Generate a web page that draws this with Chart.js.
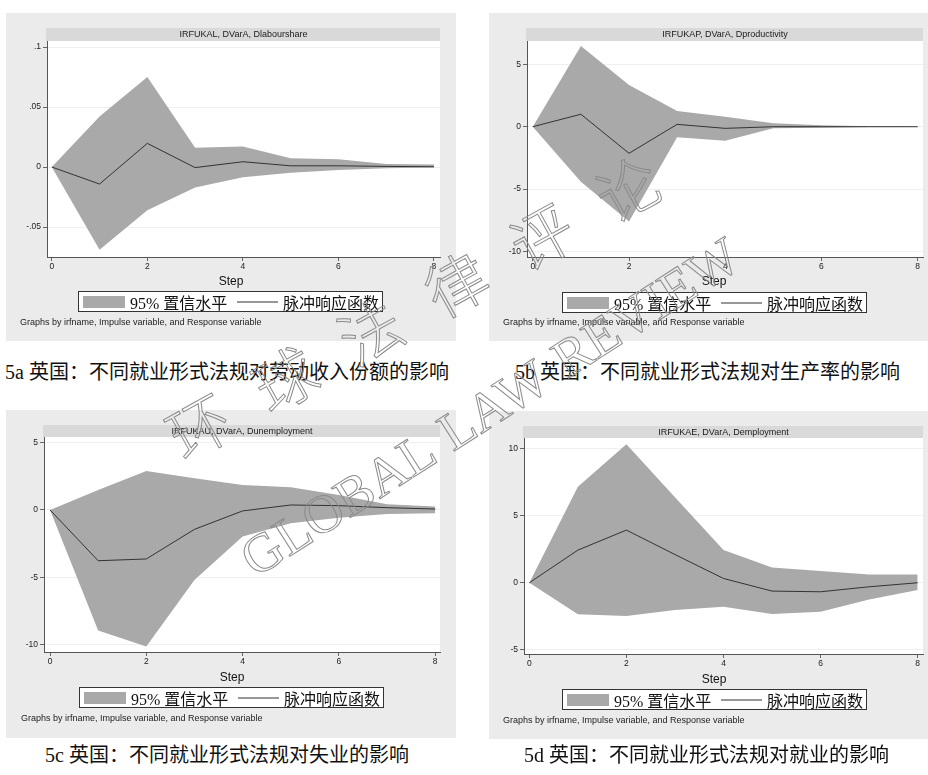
<!DOCTYPE html>
<html lang="zh">
<head>
  <meta charset="UTF-8" />
  <title>英国：不同就业形式法规的脉冲响应</title>
  <script src="https://cdn.jsdelivr.net/npm/chart.js"></script>
  <style>
    body { margin: 0; background: #fff; width: 928px; height: 775px; position: relative; overflow: hidden; }
    .panel { position: absolute; background: #ebebeb; }
    .panel canvas { position: absolute; left: 0; top: 0; }
    .step { position: absolute; font: 12px "Liberation Sans", Arial, sans-serif; color: #111; transform: translate(-50%, -50%); }
    .legend { position: absolute; width: 305px; height: 21px; box-sizing: border-box; border: 1px solid #333; background: #fff; }
    .legend span { position: absolute; top: 50%; transform: translateY(-50%); }
    .legend .sw { left: 4px; width: 42px; height: 12px; background: #a9a9a9; }
    .legend .ln { left: 158px; width: 41px; height: 1px; background: #333; }
    .legend .tx { font: 16px "Liberation Serif", "Noto Sans CJK SC", serif; color: #111; white-space: nowrap; }
    .note { position: absolute; font: 9px "Liberation Sans", Arial, sans-serif; color: #222; transform: translateY(-50%); white-space: nowrap; }
    .caption { position: absolute; font: 20px "Liberation Serif", "Noto Sans CJK SC", serif; color: #111; transform: translateY(-50%); white-space: nowrap; }
    .wm { position: absolute; color: transparent; -webkit-text-stroke: 1px #8a8a8a; pointer-events: none; white-space: nowrap; }
  </style>
</head>
<body>
  <div class="panel" style="left:6px;top:13px;width:450px;height:328px;"><canvas id="chartA" width="450" height="328"></canvas></div>
  <div class="panel" style="left:489px;top:13px;width:439px;height:328px;"><canvas id="chartB" width="439" height="328"></canvas></div>
  <div class="panel" style="left:6px;top:410px;width:450px;height:328px;"><canvas id="chartC" width="450" height="328"></canvas></div>
  <div class="panel" style="left:489px;top:411px;width:439px;height:328px;"><canvas id="chartD" width="439" height="328"></canvas></div>

  <div class="step" style="left:231px;top:281px;">Step</div>
  <div class="step" style="left:714px;top:281px;">Step</div>
  <div class="step" style="left:232px;top:677px;">Step</div>
  <div class="step" style="left:714px;top:679px;">Step</div>

  <div class="legend" style="left:78px;top:291px;"><span class="sw"></span><span class="tx" style="left:51px;">95% 置信水平</span><span class="ln"></span><span class="tx" style="left:204px;">脉冲响应函数</span></div>
  <div class="legend" style="left:562px;top:292px;"><span class="sw"></span><span class="tx" style="left:51px;">95% 置信水平</span><span class="ln"></span><span class="tx" style="left:204px;">脉冲响应函数</span></div>
  <div class="legend" style="left:79px;top:687px;"><span class="sw"></span><span class="tx" style="left:51px;">95% 置信水平</span><span class="ln"></span><span class="tx" style="left:204px;">脉冲响应函数</span></div>
  <div class="legend" style="left:562px;top:689px;"><span class="sw"></span><span class="tx" style="left:51px;">95% 置信水平</span><span class="ln"></span><span class="tx" style="left:204px;">脉冲响应函数</span></div>

  <div class="note" style="left:20px;top:322px;">Graphs by irfname, Impulse variable, and Response variable</div>
  <div class="note" style="left:503px;top:322px;">Graphs by irfname, Impulse variable, and Response variable</div>
  <div class="note" style="left:21px;top:718px;">Graphs by irfname, Impulse variable, and Response variable</div>
  <div class="note" style="left:503px;top:720px;">Graphs by irfname, Impulse variable, and Response variable</div>

  <div class="caption" style="left:5px;top:370px;">5a 英国：不同就业形式法规对劳动收入份额的影响</div>
  <div class="caption" style="left:515px;top:370px;">5b 英国：不同就业形式法规对生产率的影响</div>
  <div class="caption" style="left:45px;top:753px;">5c 英国：不同就业形式法规对失业的影响</div>
  <div class="caption" style="left:524px;top:753px;">5d 英国：不同就业形式法规对就业的影响</div>

  <div class="wm" style="left:412px;top:305px;transform:translate(-50%,-50%) rotate(-29deg);font:300 62px 'Noto Sans CJK SC';display:flex;gap:36px;"><span>环</span><span>球</span><span>法</span><span>律</span><span>评</span><span>论</span></div>
  <div class="wm" style="left:490px;top:407px;transform:translate(-50%,-50%) rotate(-32.6deg);font:54px 'Liberation Serif';word-spacing:4px;">GLOBAL LAW REVIEW</div>

  <script>
    // Impulse steps
    const steps = [0, 1, 2, 3, 4, 5, 6, 7, 8];
    const stepTicks = [0, 2, 4, 6, 8];

    // 5a Dlabourshare
    const labourIrf   = [0, -0.0142, 0.0197, -0.0005, 0.0044, 0.001, 0.001, 0.0005, 0.0002];
    const labourUpper = [0, 0.042, 0.075, 0.016, 0.017, 0.0072, 0.0064, 0.0025, 0.002];
    const labourLower = [0, -0.069, -0.036, -0.017, -0.0086, -0.0047, -0.0025, -0.001, -0.0005];
    const labourTicks = [-0.05, 0, 0.05, 0.1];

    // 5b Dproductivity
    const prodIrf   = [0, 1.0, -2.13, 0.19, -0.13, 0.0, 0.0, 0.0, 0.0];
    const prodUpper = [0, 6.47, 3.34, 1.26, 0.8, 0.27, 0.12, 0.04, 0.01];
    const prodLower = [0, -4.4, -7.6, -0.85, -1.12, -0.13, -0.08, -0.03, -0.01];
    const prodTicks = [-10, -5, 0, 5];

    // 5c Dunemployment
    const unempIrf   = [0, -3.77, -3.64, -1.44, -0.07, 0.37, 0.32, 0.17, 0.07];
    const unempUpper = [0, 1.49, 2.9, 2.35, 1.86, 1.68, 1.11, 0.42, 0.25];
    const unempLower = [0, -8.96, -10.15, -5.2, -1.98, -0.99, -0.57, -0.3, -0.25];
    const unempTicks = [-10, -5, 0, 5];

    // 5d Demployment
    const empIrf   = [0, 2.43, 3.92, 2.1, 0.32, -0.62, -0.67, -0.3, 0.0];
    const empUpper = [0, 7.14, 10.3, 6.36, 2.43, 1.14, 0.87, 0.62, 0.62];
    const empLower = [0, -2.35, -2.48, -2.03, -1.78, -2.33, -2.16, -1.24, -0.54];
    const empTicks = [-5, 0, 5, 10];

    // white plot region + grey title band above it
    const bandTitle = {
      id: 'bandTitle',
      beforeDraw(chart, args, opts) {
        const ctx = chart.ctx, a = chart.chartArea;
        ctx.save();
        ctx.fillStyle = '#fff';
        ctx.fillRect(a.left, a.top, a.right - a.left, a.bottom - a.top);
        ctx.fillStyle = '#d9d9d9';
        ctx.fillRect(a.left - 1, a.top - opts.h, a.right - a.left + 1, opts.h);
        ctx.fillStyle = '#1a1a1a';
        ctx.font = '9px "Liberation Sans", Arial, sans-serif';
        ctx.textAlign = 'center';
        ctx.textBaseline = 'middle';
        ctx.fillText(opts.text, (a.left + a.right) / 2, a.top - opts.h / 2 + 0.5);
        ctx.restore();
      }
    };

    function fmt(v) {
      if (v === 0) return '0';
      return String(v).replace('0.', '.');
    }

    function pts(ys) { return steps.map((s, i) => ({ x: s, y: ys[i] })); }

    function makeChart(id, cfg) {
      const W = document.getElementById(id).width;
      const H = document.getElementById(id).height;
      const yW = 30, xH = 20;
      return new Chart(document.getElementById(id), {
        type: 'line',
        data: {
          datasets: [
            { data: pts(cfg.irf), borderColor: '#333', borderWidth: 1, pointRadius: 0, fill: false, order: 0 },
            { data: pts(cfg.upper), borderWidth: 0, borderColor: 'rgba(0,0,0,0)', pointRadius: 0, fill: '+1', backgroundColor: '#a9a9a9', order: 1 },
            { data: pts(cfg.lower), borderWidth: 0, borderColor: 'rgba(0,0,0,0)', pointRadius: 0, fill: false, order: 2 }
          ]
        },
        options: {
          responsive: false,
          animation: false,
          events: [],
          layout: { padding: { left: cfg.L - yW, right: W - cfg.R, top: cfg.T, bottom: H - cfg.B - xH } },
          plugins: {
            legend: { display: false },
            tooltip: { enabled: false },
            bandTitle: { text: cfg.title, h: cfg.band }
          },
          scales: {
            x: {
              type: 'linear', min: cfg.xMin, max: cfg.xMax,
              afterBuildTicks: s => { s.ticks = stepTicks.map(v => ({ value: v })); },
              afterFit: s => { s.height = xH; },
              grid: { drawOnChartArea: false, drawTicks: true, tickLength: 4, tickColor: '#666' },
              border: { display: true, color: '#555', width: 1 },
              ticks: { font: { family: 'Liberation Sans', size: 8.5 }, color: '#222', padding: 1, maxRotation: 0, callback: v => fmt(v) }
            },
            y: {
              type: 'linear', min: cfg.yMin, max: cfg.yMax,
              afterBuildTicks: s => { s.ticks = cfg.ticks.map(v => ({ value: v })); },
              afterFit: s => { s.width = yW; },
              grid: { color: '#efefef', lineWidth: 1, drawTicks: true, tickLength: 4, tickColor: '#666' },
              border: { display: true, color: '#555', width: 1 },
              ticks: { font: { family: 'Liberation Sans', size: 8.5 }, color: '#222', padding: 2, callback: v => fmt(v) }
            }
          }
        },
        plugins: [bandTitle]
      });
    }

    makeChart('chartA', {
      title: 'IRFUKAL, DVarA, Dlabourshare', band: 13,
      irf: labourIrf, upper: labourUpper, lower: labourLower, ticks: labourTicks,
      L: 41, R: 434, T: 28, B: 244,
      xMin: -0.1, xMax: 8.126, yMin: -0.075, yMax: 0.105
    });
    makeChart('chartB', {
      title: 'IRFUKAP, DVarA, Dproductivity', band: 13,
      irf: prodIrf, upper: prodUpper, lower: prodLower, ticks: prodTicks,
      L: 38, R: 434, T: 28, B: 244,
      xMin: -0.12, xMax: 8.11, yMin: -10.44, yMax: 6.87
    });
    makeChart('chartC', {
      title: 'IRFUKAU, DVarA, Dunemployment', band: 12,
      irf: unempIrf, upper: unempUpper, lower: unempLower, ticks: unempTicks,
      L: 38, R: 434, T: 27, B: 242,
      xMin: -0.125, xMax: 8.1, yMin: -10.55, yMax: 5.42
    });
    makeChart('chartD', {
      title: 'IRFUKAE, DVarA, Demployment', band: 12,
      irf: empIrf, upper: empUpper, lower: empLower, ticks: empTicks,
      L: 35, R: 434, T: 27, B: 243,
      xMin: -0.11, xMax: 8.11, yMin: -5.3, yMax: 10.77
    });
  </script>
</body>
</html>
